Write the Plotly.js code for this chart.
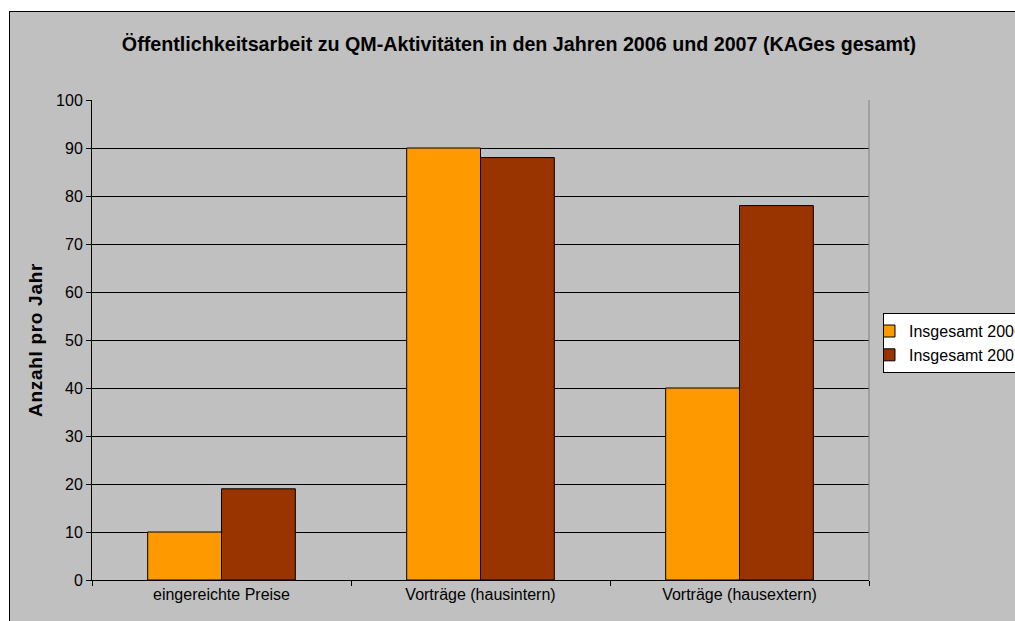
<!DOCTYPE html>
<html><head><meta charset="utf-8">
<script src="https://cdn.plot.ly/plotly-3.0.1.min.js"></script>
<style>
html,body{margin:0;padding:0;background:#fff;overflow:hidden;width:1015px;height:621px;position:relative;}
#chart{position:absolute;left:9px;top:11px;width:1080px;height:610px;border-left:1px solid #000;border-top:1px solid #000;background:#C0C0C0;}
#chart .g-ytitle text{letter-spacing:0.7px;}
</style></head><body>
<div id="chart"></div>
<script>
const categories = ["eingereichte Preise", "Vorträge (hausintern)", "Vorträge (hausextern)"];
const series2006 = [10, 90, 40];
const series2007 = [19, 88, 78];
const seriesNames = ["Insgesamt 2006", "Insgesamt 2007"];
const yTicks = [0,10,20,30,40,50,60,70,80,90,100];

const font = "Arial, 'Liberation Sans', sans-serif";
const data = [
  {type:'bar', x:categories, y:series2006, name:seriesNames[0], marker:{color:'#FF9900', line:{color:'#000', width:1}}},
  {type:'bar', x:categories, y:series2007, name:seriesNames[1], marker:{color:'#993300', line:{color:'#000', width:1}}}
];
const layout = {
  width:1080, height:610,
  paper_bgcolor:'#C0C0C0', plot_bgcolor:'#C0C0C0',
  margin:{l:82, r:221, t:88, b:42},
  font:{family:font, color:'#000', size:16},
  title:{text:'<b>Öffentlichkeitsarbeit zu QM-Aktivitäten in den Jahren 2006 und 2007 (KAGes gesamt)</b>',
    font:{size:19.7, family:font, color:'#000'}, xref:'container', x:0.4713, xanchor:'center', yref:'container', y:0.948, yanchor:'middle'},
  barmode:'group', bargap:0.43, bargroupgap:0,
  showlegend:true,
  legend:{x:1.018, xanchor:'left', y:0.556, yanchor:'top', bgcolor:'#fff', bordercolor:'#000', borderwidth:1,
    font:{size:16, family:font, color:'#000'}, tracegroupgap:0, indentation:-15},
  xaxis:{type:'category', tickson:'boundaries', ticks:'outside', ticklen:5, tickcolor:'#000',
    showline:true, linecolor:'#000', linewidth:1, showgrid:false, tickfont:{size:16, color:'#000'}},
  yaxis:{range:[0,100], tickvals:yTicks, ticks:'outside', ticklen:5, tickcolor:'#000',
    showline:true, linecolor:'#000', linewidth:1, showgrid:true, gridcolor:'#000', gridwidth:1,
    zeroline:false, tickfont:{size:16, color:'#000'},
    title:{text:'<b>Anzahl pro Jahr</b>', font:{size:19, color:'#000'}, standoff:8}},
  shapes:[{type:'line', xref:'paper', yref:'paper', x0:1, x1:1, y0:0, y1:1, line:{color:'#808080', width:1}}]
};
Plotly.newPlot('chart', data, layout, {displayModeBar:false, staticPlot:true});
</script></body></html>
